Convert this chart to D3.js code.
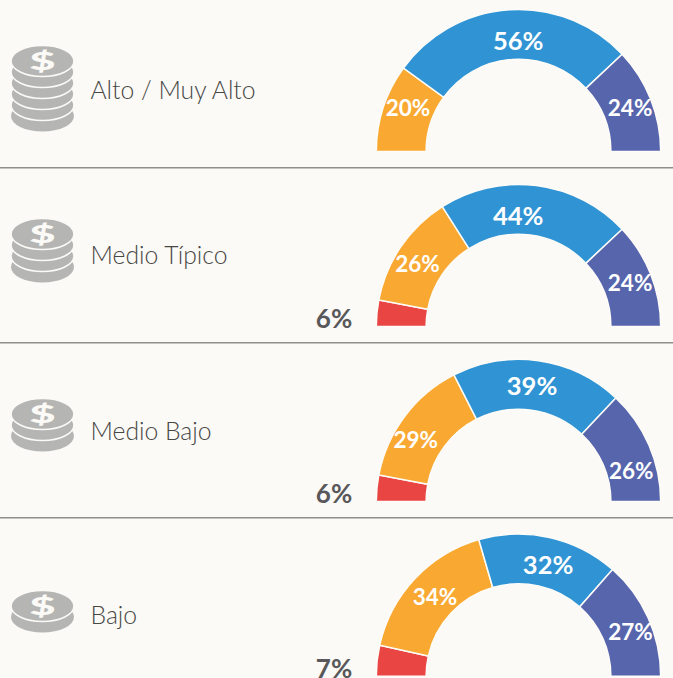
<!DOCTYPE html>
<html>
<head>
<meta charset="utf-8">
<script src="https://cdn.jsdelivr.net/npm/d3@7"></script>
<style>
  html, body { margin: 0; padding: 0; background: #fbfaf6; overflow: hidden; }
  svg { display: block; }
  .name { font-family: Lato, sans-serif; font-size: 24.7px; font-weight: 300; fill: #474745; }
  .pct { font-family: Lato, sans-serif; font-weight: 700; fill: #fff; text-anchor: middle; }
  .outside { fill: #58585a; }
</style>
</head>
<body>
<div id="chart"></div>
<script>
const groups = ["Alto / Muy Alto", "Medio Típico", "Medio Bajo", "Bajo"];
const coinCounts = [5, 3, 2, 1];
const rojo = [0, 6, 6, 7];
const naranja = [20, 26, 29, 34];
const azul = [56, 44, 39, 32];
const morado = [24, 24, 26, 27];
const colors = ["#e84543", "#f9a932", "#3094d4", "#5665ac"];

const width = 673, height = 678;
const cx = 518.5, outerR = 142.2, innerR = 92.4;
const baselines = [151.6, 326.6, 501.6, 676.2];
const dividers = [167.7, 342.7, 517.7];
const nameY = [99, 264, 440, 624];
const coinTop = [61, 234, 414, 606];

// label nudges from the arc centroid, the side labels don't sit in the middle
const nudges = [
  [[0, 0], [1, -7], [7, 7], [2.5, 0]],
  [[0, 0], [-4, 3], [-15, 6], [2.5, 0]],
  [[0, 0], [-9, 9], [-3, 1], [5, 16]],
  [[0, 0], [2, 1], [4, 3], [5, 4]]
];

var svg = d3.select("#chart").append("svg")
  .attr("width", width)
  .attr("height", height);

var pie = d3.pie()
  .sort(null)
  .startAngle(-Math.PI / 2)
  .endAngle(Math.PI / 2);

var arc = d3.arc()
  .innerRadius(innerR)
  .outerRadius(outerR);

svg.selectAll(".divider")
  .data(dividers)
  .enter()
  .append("line")
  .attr("x1", 0)
  .attr("x2", width)
  .attr("y1", d => d)
  .attr("y2", d => d)
  .style("stroke", "#8f8f89")
  .style("stroke-width", 1.5);

groups.forEach((name, i) => {
  var values = [rojo[i], naranja[i], azul[i], morado[i]];
  var g = svg.append("g")
    .attr("transform", "translate(" + cx + "," + baselines[i] + ")");

  var slices = pie(values);

  g.selectAll("path")
    .data(slices)
    .enter()
    .append("path")
    .attr("d", arc)
    .style("fill", (d, k) => colors[k])
    .style("stroke", "#fdfcf9")
    .style("stroke-width", d => d.value > 0 ? 1.5 : 0);

  g.selectAll("text")
    .data(slices.filter(d => d.index > 0 && d.value > 0))
    .enter()
    .append("text")
    .attr("class", "pct")
    .attr("x", d => arc.centroid(d)[0] + nudges[i][d.index][0])
    .attr("y", d => arc.centroid(d)[1] + nudges[i][d.index][1])
    .attr("dy", "0.35em")
    .style("font-size", d => d.index == 2 ? "25.5px" : "22.5px")
    .text(d => d.value + "%");

  if (rojo[i] > 0) {
    g.append("text")
      .attr("class", "pct outside")
      .attr("x", -184.5)
      .attr("y", -7.5)
      .attr("dy", "0.35em")
      .style("font-size", "26px")
      .text(rojo[i] + "%");
  }

  svg.append("text")
    .attr("class", "name")
    .attr("x", 90.5)
    .attr("y", nameY[i])
    .text(name);

  drawCoins(coinTop[i], coinCounts[i]);
});

// stack of coins, the top one carries the $ sign
function drawCoins(top, count) {
  var rx = 31.5, ry = 15.5, gap = 11;
  var coin = svg.append("g").attr("transform", "translate(42.5," + top + ")");
  d3.range(count, -1, -1).forEach(k => {
    coin.append("ellipse")
      .attr("cx", 0)
      .attr("cy", k * gap)
      .attr("rx", rx)
      .attr("ry", ry)
      .style("fill", "#b5b5b3")
      .style("stroke", "#fbfaf6")
      .style("stroke-width", k == count ? 0 : 1.6);
  });
  // the sign in the picture is wide and squat, so stretch it
  coin.append("text")
    .attr("transform", "scale(1.75,0.95)")
    .attr("dy", "0.36em")
    .style("font-family", "Lato, sans-serif")
    .style("font-weight", 900)
    .style("font-size", "26px")
    .style("text-anchor", "middle")
    .style("fill", "#fbfaf6")
    .text("$");
}
</script>
</body>
</html>
